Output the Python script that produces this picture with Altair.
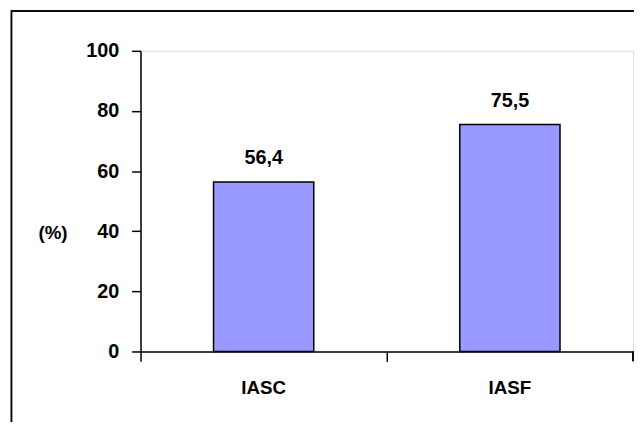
import altair as alt
import pandas as pd

categories = ["IASC", "IASF"]
values = [56.4, 75.5]
labels = ["56,4", "75,5"]
y_ticks = [0, 20, 40, 60, 80, 100]

df = pd.DataFrame({"cat": categories, "val": values, "lab": labels})

FONT = "Liberation Sans"
FS = 20
W, H = 498, 304

base = alt.Chart(df)

bars = base.mark_bar(
    width=alt.RelativeBandSize(0.407), color="#9999FF", stroke="black", strokeWidth=1.5
).encode(
    x=alt.X("cat:N", sort=categories, title=None,
            scale=alt.Scale(paddingInner=0, paddingOuter=0),
            axis=alt.Axis(bandPosition=0, labelAngle=0, labelFont=FONT, labelFontSize=FS - 1,
                          labelFontWeight="bold", labelColor="black", labelPadding=18,
                          tickSize=10, tickColor="black", tickWidth=1.5,
                          domainColor="black", domainWidth=1.5)),
    y=alt.Y("val:Q", scale=alt.Scale(domain=[0, 100]), title="(%)",
            axis=alt.Axis(values=y_ticks, grid=False, labelFont=FONT, labelFontSize=FS,
                          labelFontWeight="bold", labelColor="black", labelPadding=13,
                          tickSize=9, tickColor="black", tickWidth=1.5,
                          domainColor="black", domainWidth=1.5,
                          titleAngle=0, titleFont=FONT, titleFontSize=FS - 1, titleFontWeight="bold",
                          titleColor="black", titleX=-89, titleY=184, titleAlign="center",
                          titleBaseline="middle")),
)

text = base.mark_text(
    font=FONT, fontSize=FS, fontWeight="bold", color="black", baseline="alphabetic", dy=-18
).encode(
    x=alt.X("cat:N", sort=categories),
    y=alt.Y("val:Q"),
    text="lab:N",
)

right_tick = base.mark_rule(color="black", strokeWidth=1.5).encode(
    x=alt.value(W), y=alt.value(H), y2=alt.value(H + 10)
)

frame = base.mark_rect(fill=None, stroke="black", strokeWidth=1.5).encode(
    x=alt.value(-130.5), x2=alt.value(1000), y=alt.value(-40.3), y2=alt.value(1000)
)

chart = alt.layer(frame, bars, text, right_tick).properties(
    width=W, height=H,
    autosize=alt.AutoSizeParams(type="none"),
    padding={"left": 134, "top": 41, "right": 1, "bottom": 69},
).configure_view(stroke=None).configure(background="white")

chart.save("out.html", embed_options={"renderer": "svg", "actions": False})
